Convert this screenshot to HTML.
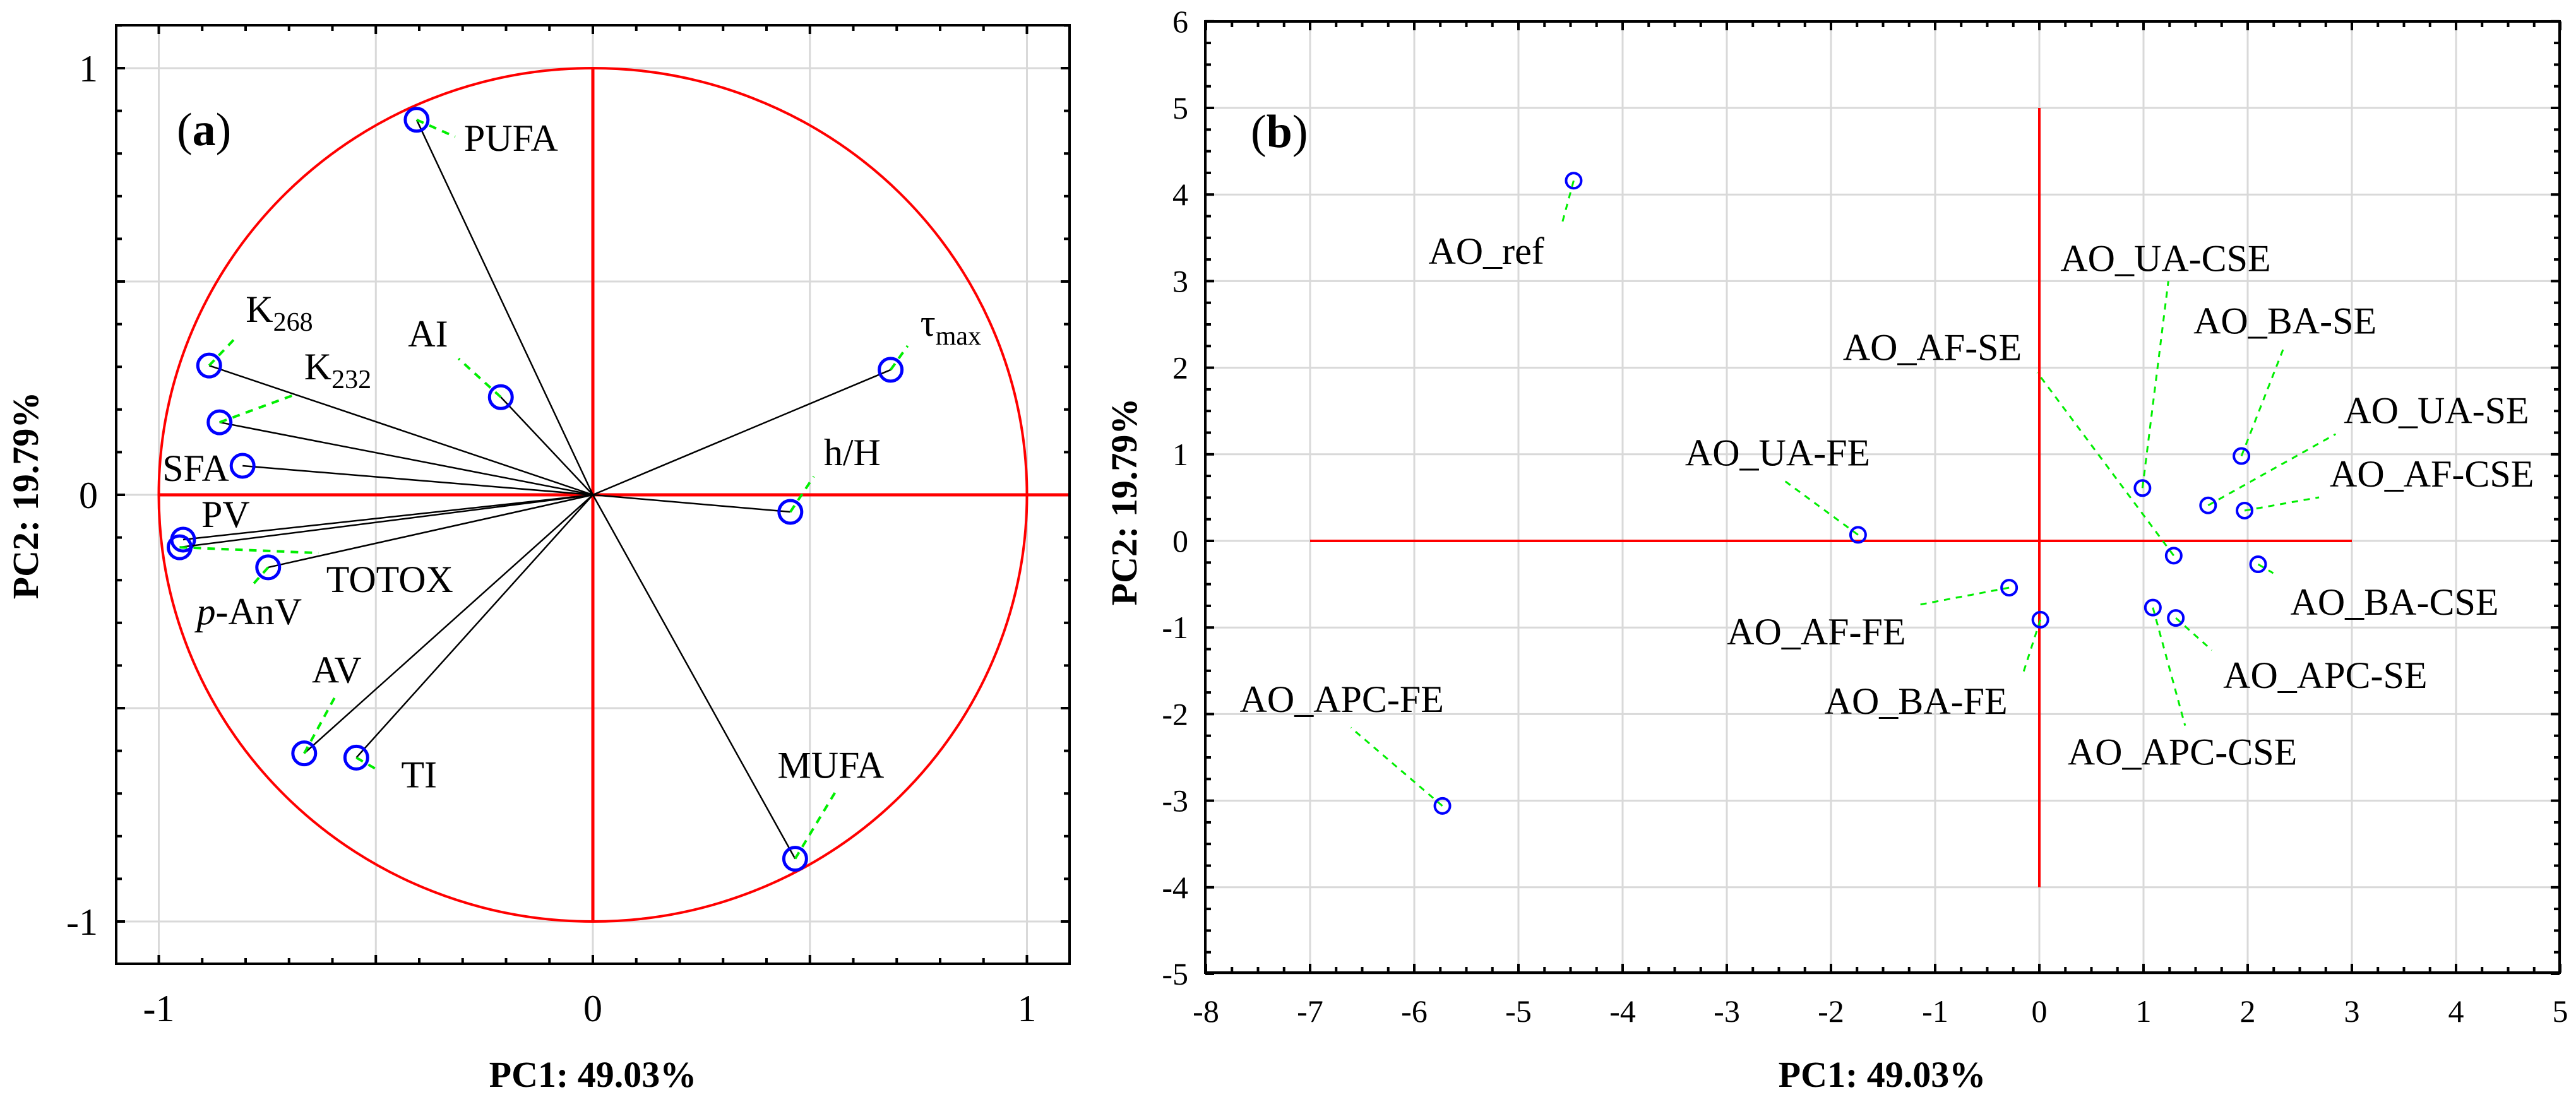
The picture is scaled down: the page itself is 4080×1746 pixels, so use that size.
<!DOCTYPE html>
<html><head><meta charset="utf-8"><style>
html,body{margin:0;padding:0;background:#fff;}
svg{display:block;font-family:"Liberation Serif",serif;}
</style></head><body>
<svg id="chart" width="4080" height="1746" viewBox="0 0 4080 1746" xmlns="http://www.w3.org/2000/svg">
<g id="pa"></g>
<g id="pb"></g>
</svg>
<script>
// Panel (a) loadings data
const aNames = ["PUFA","AI","K268","K232","SFA","PV","p-AnV","TOTOX","AV","TI","MUFA","h/H","tau-max"];
const aPC1 = [-0.406,-0.212,-0.884,-0.860,-0.807,-0.944,-0.952,-0.748,-0.665,-0.545,0.466,0.455,0.686];
const aPC2 = [0.879,0.229,0.303,0.170,0.068,-0.105,-0.123,-0.170,-0.606,-0.616,-0.853,-0.040,0.293];
const aTicks = [-1,0,1];
const aTickLabels = ["-1","0","1"];
// Panel (b) scores data
const bNames = ["AO_ref","AO_UA-FE","AO_AF-FE","AO_BA-FE","AO_APC-FE","AO_UA-CSE","AO_BA-SE","AO_UA-SE","AO_AF-CSE","AO_AF-SE","AO_BA-CSE","AO_APC-CSE","AO_APC-SE"];
const bPC1 = [-4.47,-1.74,-0.29,0.01,-5.73,0.99,1.94,1.62,1.97,1.29,2.10,1.09,1.31];
const bPC2 = [4.16,0.07,-0.54,-0.91,-3.06,0.61,0.98,0.41,0.35,-0.17,-0.27,-0.77,-0.89];
const bXTicks = [-8,-7,-6,-5,-4,-3,-2,-1,0,1,2,3,4,5];
const bYTicks = [6,5,4,3,2,1,0,-1,-2,-3,-4,-5];

const NS="http://www.w3.org/2000/svg";
function mk(parent,tag,attrs,text){const e=document.createElementNS(NS,tag);for(const k in attrs)e.setAttribute(k,attrs[k]);if(text!==undefined)e.textContent=text;parent.appendChild(e);return e;}

/* ---------- Panel A ---------- */
const pa=document.getElementById('pa');
const ax=v=>939+v*687.5, ay=v=>784-v*676;
const A={l:184,r:1694,t:40,b:1527};
for(let v=-1;v<=1.0001;v+=0.5){
  let g=mk(pa,'line',{x1:ax(v),x2:ax(v),y1:A.t,y2:A.b,stroke:'#d9d9d9','stroke-width':3});
  
  
  g=mk(pa,'line',{x1:A.l,x2:A.r,y1:ay(v),y2:ay(v),stroke:'#d9d9d9','stroke-width':3});
  
  
}
for(let i=-11;i<=11;i++){const v=i/10;
  if(ax(v)>A.l&&ax(v)<A.r){const L=(i%5===0)?14:9;
    mk(pa,'line',{x1:ax(v),x2:ax(v),y1:A.b,y2:A.b-L,stroke:'#000','stroke-width':4});
    mk(pa,'line',{x1:ax(v),x2:ax(v),y1:A.t,y2:A.t+L,stroke:'#000','stroke-width':4});}
  if(ay(v)>A.t&&ay(v)<A.b){const L=(i%5===0)?14:9;
    mk(pa,'line',{x1:A.l,x2:A.l+L,y1:ay(v),y2:ay(v),stroke:'#000','stroke-width':4});
    mk(pa,'line',{x1:A.r,x2:A.r-L,y1:ay(v),y2:ay(v),stroke:'#000','stroke-width':4});}
}
let e=mk(pa,'ellipse',{cx:ax(0),cy:ay(0),rx:687.5,ry:676,fill:'none',stroke:'#ff0000','stroke-width':4});


e=mk(pa,'line',{x1:ax(-1),x2:A.r,y1:ay(0),y2:ay(0),stroke:'#ff0000','stroke-width':5});


e=mk(pa,'line',{x1:ax(0),x2:ax(0),y1:ay(1),y2:ay(-1),stroke:'#ff0000','stroke-width':5});


e=mk(pa,'rect',{x:A.l,y:A.t,width:A.r-A.l,height:A.b-A.t,fill:'none',stroke:'#000','stroke-width':4});


const aLab=[ [75,49,61,27],[-147,-80,-67,-61],[58,-69,42,-44],[134,-68,117,-43],[-127,24,null,null],[29,-20,null,null],[27,122,220,9],[92,39,-25,28],[12,-112,48,-88],[71,47,38,22],[-28,-128,65,-108],[53,-74,37,-56],[47,-54,27,-38] ];
for(let i=0;i<aNames.length;i++){
  const px=ax(aPC1[i]),py=ay(aPC2[i]);
  const ln=mk(pa,'line',{x1:ax(0),y1:ay(0),x2:px,y2:py,stroke:'#000','stroke-width':2.5});
  
  
  const o=aLab[i];
  if(o[2]!==null){const ld=mk(pa,'line',{x1:px,y1:py,x2:px+o[2],y2:py+o[3],stroke:'#00ee00','stroke-width':4,'stroke-dasharray':'12,10'});
    
    }
  const c=mk(pa,'circle',{cx:px,cy:py,r:18,fill:'none',stroke:'#0000ff','stroke-width':5});
  
  
  const t=mk(pa,'text',{x:px+o[0],y:py+o[1],'font-size':60,fill:'#000'});
  
  
  const nm=aNames[i];
  if(nm==='K268'||nm==='K232'){t.textContent='K';mk(t,'tspan',{'font-size':42,dy:14},nm.slice(1));}
  else if(nm==='tau-max'){t.textContent='τ';mk(t,'tspan',{'font-size':42,dy:14},'max');}
  else if(nm==='p-AnV'){mk(t,'tspan',{'font-style':'italic'},'p');t.appendChild(document.createTextNode('-AnV'));}
  else t.textContent=nm;
}
for(let i=0;i<aTicks.length;i++){
  let t=mk(pa,'text',{x:ax(aTicks[i]),y:1618,'font-size':60,'text-anchor':'middle'},aTickLabels[i]);
  
  
  t=mk(pa,'text',{x:155,y:ay(aTicks[i])+21,'font-size':60,'text-anchor':'end'},aTickLabels[i]);
  
  
}
e=mk(pa,'text',{x:939,y:1722,'font-size':58,'font-weight':'bold','text-anchor':'middle'},'PC1: 49.03%');


e=mk(pa,'text',{x:0,y:0,'font-size':58,'font-weight':'bold','text-anchor':'middle',transform:'translate(60,785) rotate(-90)'},'PC2: 19.79%');


e=mk(pa,'text',{x:280,y:230,'font-size':74});


e.appendChild(document.createTextNode('('));mk(e,'tspan',{'font-weight':'bold'},'a');e.appendChild(document.createTextNode(')'));

/* ---------- Panel B ---------- */
const pb=document.getElementById('pb');
const bx=v=>3230+v*165.0, by=v=>857-v*137.2;
const B={l:1909,r:4054,t:34,b:1541};
for(const v of bXTicks){const g=mk(pb,'line',{x1:bx(v),x2:bx(v),y1:B.t,y2:B.b,stroke:'#d9d9d9','stroke-width':3});
  
  }
for(const v of bYTicks){const g=mk(pb,'line',{x1:B.l,x2:B.r,y1:by(v),y2:by(v),stroke:'#d9d9d9','stroke-width':3});
  
  }
for(let i=-32;i<=20;i++){const v=i/4,L=(i%4===0)?14:9;
  mk(pb,'line',{x1:bx(v),x2:bx(v),y1:B.b,y2:B.b-L,stroke:'#000','stroke-width':4});
  mk(pb,'line',{x1:bx(v),x2:bx(v),y1:B.t,y2:B.t+L,stroke:'#000','stroke-width':4});}
for(let i=-20;i<=24;i++){const v=i/4,L=(i%4===0)?14:9;
  mk(pb,'line',{x1:B.l,x2:B.l+L,y1:by(v),y2:by(v),stroke:'#000','stroke-width':4});
  mk(pb,'line',{x1:B.r,x2:B.r-L,y1:by(v),y2:by(v),stroke:'#000','stroke-width':4});}
e=mk(pb,'line',{x1:bx(-7),x2:bx(3),y1:by(0),y2:by(0),stroke:'#ff0000','stroke-width':4});


e=mk(pb,'line',{x1:bx(0),x2:bx(0),y1:by(5),y2:by(-4),stroke:'#ff0000','stroke-width':4});


e=mk(pb,'rect',{x:B.l,y:B.t,width:B.r-B.l,height:B.b-B.t,fill:'none',stroke:'#000','stroke-width':4});


// label offsets relative to each point: [textdx,textdy,leaderdx,leaderdy]
const bLab=[ [-230,132,-19,70],[-274,-110,-117,-86],[-447,90,-142,27],[-342,149,-29,90],[-321,-149,-145,-124],[-130,-344,41,-328],[-76,-194,68,-174],[215,-130,202,-113],[135,-38,118,-21],[-524,-310,-216,-290],[51,80,24,14],[-135,249,51,187],[75,111,57,51] ];
for(let i=0;i<bNames.length;i++){
  const px=bx(bPC1[i]),py=by(bPC2[i]),o=bLab[i];
  const ld=mk(pb,'line',{x1:px,y1:py,x2:px+o[2],y2:py+o[3],stroke:'#00ee00','stroke-width':3,'stroke-dasharray':'10,9'});
  
  
  const c=mk(pb,'circle',{cx:px,cy:py,r:12,fill:'none',stroke:'#0000ff','stroke-width':4});
  
  
  const t=mk(pb,'text',{x:px+o[0],y:py+o[1],'font-size':60},bNames[i]);
  
  
}
for(const v of bXTicks){const t=mk(pb,'text',{x:bx(v),y:1619,'font-size':50,'text-anchor':'middle'},String(v));
  
  }
for(const v of bYTicks){const t=mk(pb,'text',{x:1882,y:by(v)+17,'font-size':50,'text-anchor':'end'},String(v));
  
  }
e=mk(pb,'text',{x:2981,y:1722,'font-size':58,'font-weight':'bold','text-anchor':'middle'},'PC1: 49.03%');


e=mk(pb,'text',{x:0,y:0,'font-size':58,'font-weight':'bold','text-anchor':'middle',transform:'translate(1800,795) rotate(-90)'},'PC2: 19.79%');


e=mk(pb,'text',{x:1981,y:233,'font-size':74});


e.appendChild(document.createTextNode('('));mk(e,'tspan',{'font-weight':'bold'},'b');e.appendChild(document.createTextNode(')'));
</script>
</body></html>
